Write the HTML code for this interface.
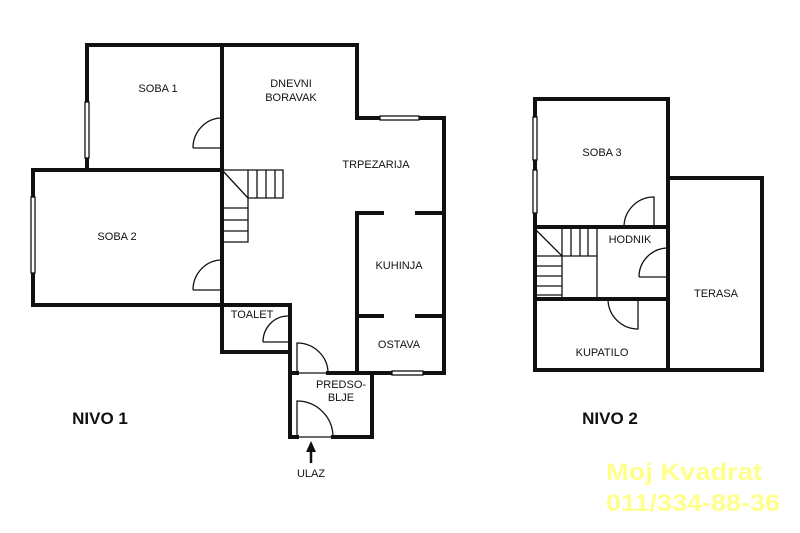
<!DOCTYPE html>
<html><head><meta charset="utf-8"><style>
html,body{margin:0;padding:0;background:#fff;width:800px;height:533px;overflow:hidden}
svg{display:block}
text{font-family:"Liberation Sans",sans-serif;font-size:11px;fill:#111}
</style></head><body>
<svg width="800" height="533" viewBox="0 0 800 533" xmlns="http://www.w3.org/2000/svg">
<g fill="none" stroke="#111" stroke-width="4" stroke-linecap="square">
<polyline points="87,170 87,45 357,45 357,118 444,118 444,373 357,373"/>
<polyline points="222,45 222,352"/>
<rect x="33" y="170" width="189" height="135"/>
<polyline points="222,305 290,305 290,437 297,437"/>
<polyline points="222,352 290,352"/>
<polyline points="333,437 372,437 372,373 357,373"/>
<polyline points="290,373 297,373"/>
<polyline points="328,373 357,373 357,213 382,213"/>
<line x1="417" y1="213" x2="444" y2="213"/>
<line x1="357" y1="316" x2="382" y2="316"/>
<line x1="417" y1="316" x2="444" y2="316"/>
<rect x="535" y="99" width="133" height="271"/>
<polyline points="668,178 762,178 762,370 668,370"/>
<line x1="535" y1="227" x2="668" y2="227"/>
<line x1="535" y1="299" x2="668" y2="299"/>
</g>
<g fill="none" stroke="#111" stroke-width="1.3">
<rect x="85" y="102" width="4" height="56" fill="#fff"/>
<rect x="31" y="197" width="4" height="76" fill="#fff"/>
<rect x="380" y="116" width="39" height="4" fill="#fff"/>
<rect x="392" y="371" width="31" height="4" fill="#fff"/>
<rect x="533" y="117" width="4" height="43" fill="#fff"/>
<rect x="533" y="170" width="4" height="43" fill="#fff"/>
<path d="M193,148 A29,30 0 0 1 222,118 M193,148 H222"/>
<path d="M193,290 A29,30 0 0 1 222,260 M193,290 H222"/>
<path d="M263,342 A25,26 0 0 1 288,316 M263,342 H288"/>
<path d="M297,373 V343 A31,30 0 0 1 328,373 H297"/>
<path d="M297,437 V401 A36,36 0 0 1 333,437 H297"/>
<path d="M222,170 H283 V198 H248 V242 H222 M222,170 L248,198 M257,170 V198 M266,170 V198 M275,170 V198 M248,170 V198 M222,208 H248 M222,220 H248 M222,231 H248"/>
<path d="M624,227 A30,30 0 0 1 654,197 V227"/>
<path d="M639,277 A29,29 0 0 1 668,248 M639,277 H668"/>
<path d="M638,299 V329 A30,30 0 0 1 608,299"/>
<path d="M535,227 V299 H597 V227 M535,229 L562,256 M562,229 V256 M571,229 V256 M580,229 V256 M588,229 V256 M562,256 V299 M535,256 H597 M535,266 H562 M535,276 H562 M535,286 H562 M535,295 H562"/>
</g>
<line x1="311" y1="450" x2="311" y2="463" stroke="#111" stroke-width="2.5"/>
<polygon points="311,441 306,452 316,452" fill="#111"/>
<text x="158" y="92" text-anchor="middle">SOBA 1</text>
<text x="291" y="87" text-anchor="middle">DNEVNI</text>
<text x="291" y="101" text-anchor="middle">BORAVAK</text>
<text x="376" y="168" text-anchor="middle">TRPEZARIJA</text>
<text x="117" y="240" text-anchor="middle">SOBA 2</text>
<text x="399" y="269" text-anchor="middle">KUHINJA</text>
<text x="252" y="318" text-anchor="middle">TOALET</text>
<text x="399" y="348" text-anchor="middle">OSTAVA</text>
<text x="341" y="388" text-anchor="middle">PREDSO-</text>
<text x="341" y="401" text-anchor="middle">BLJE</text>
<text x="311" y="477" text-anchor="middle">ULAZ</text>
<text x="100" y="424" text-anchor="middle" style="font-size:17px;font-weight:bold">NIVO 1</text>
<text x="602" y="156" text-anchor="middle">SOBA 3</text>
<text x="630" y="243" text-anchor="middle">HODNIK</text>
<text x="716" y="297" text-anchor="middle">TERASA</text>
<text x="602" y="356" text-anchor="middle">KUPATILO</text>
<text x="610" y="424" text-anchor="middle" style="font-size:17px;font-weight:bold">NIVO 2</text>
<text x="606" y="480" textLength="156" lengthAdjust="spacingAndGlyphs" style="font-size:24px;font-weight:bold;fill:#ffff8c">Moj Kvadrat</text>
<text x="606" y="511" textLength="174" lengthAdjust="spacingAndGlyphs" style="font-size:24px;font-weight:bold;fill:#ffff8c">011/334-88-36</text>
</svg>
</body></html>
